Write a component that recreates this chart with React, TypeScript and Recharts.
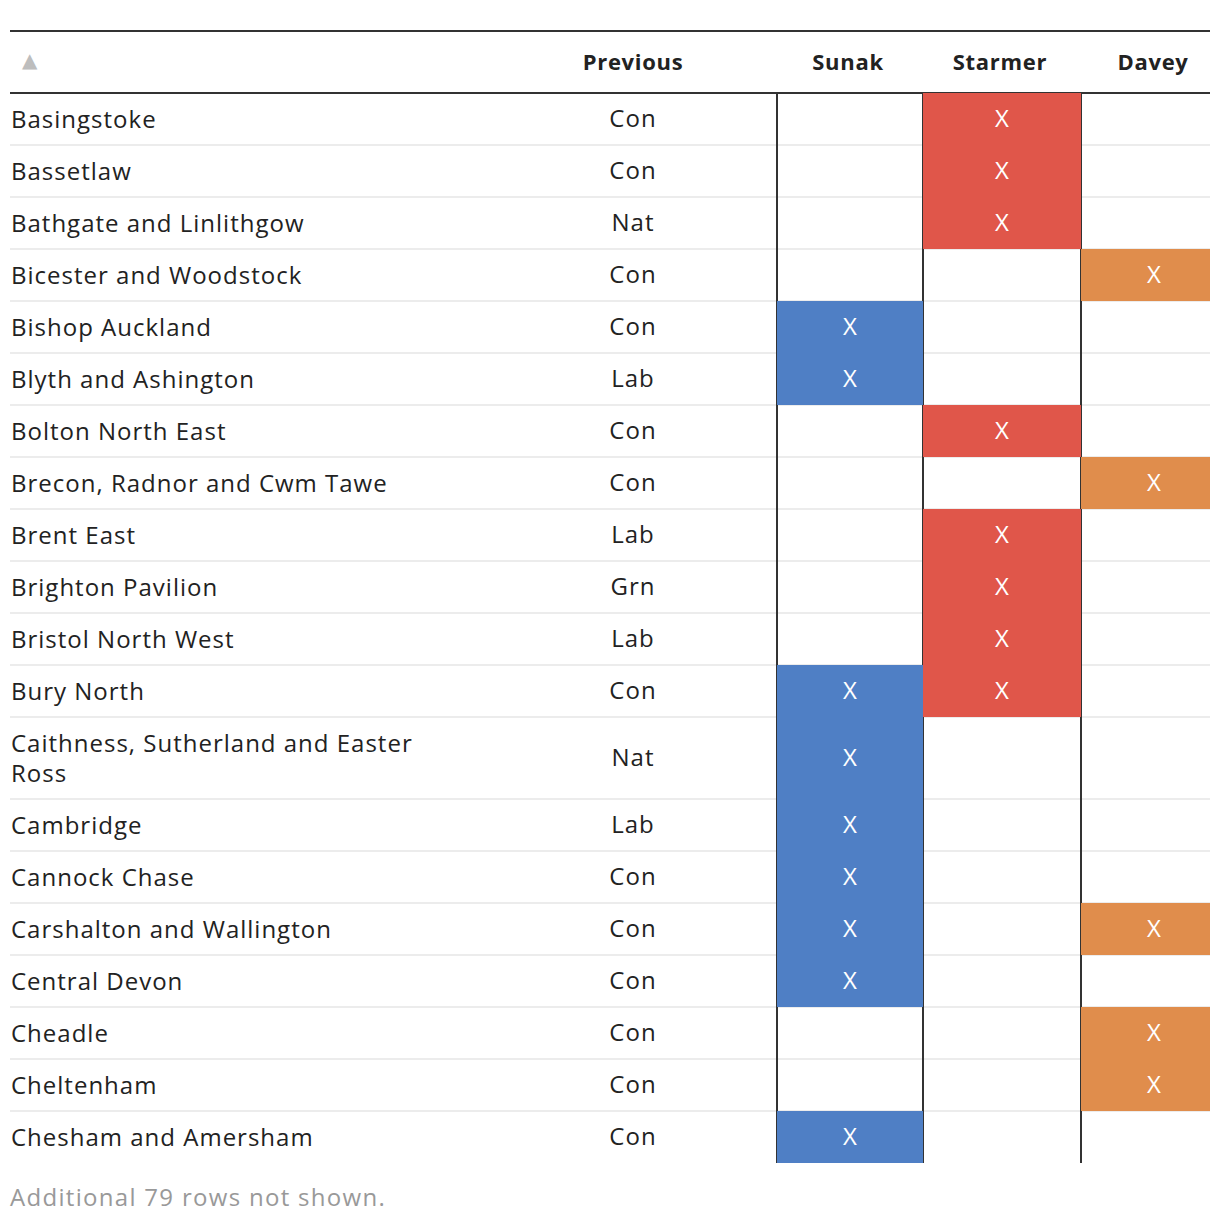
import React from 'react';
import { ScatterChart, Scatter, XAxis, YAxis, ReferenceLine } from 'recharts';

// --- data ---
const constituencies = [
  'Basingstoke',
  'Bassetlaw',
  'Bathgate and Linlithgow',
  'Bicester and Woodstock',
  'Bishop Auckland',
  'Blyth and Ashington',
  'Bolton North East',
  'Brecon, Radnor and Cwm Tawe',
  'Brent East',
  'Brighton Pavilion',
  'Bristol North West',
  'Bury North',
  'Caithness, Sutherland and Easter Ross',
  'Cambridge',
  'Cannock Chase',
  'Carshalton and Wallington',
  'Central Devon',
  'Cheadle',
  'Cheltenham',
  'Chesham and Amersham',
];
const previous = ['Con', 'Con', 'Nat', 'Con', 'Con', 'Lab', 'Con', 'Con', 'Lab', 'Grn', 'Lab', 'Con', 'Nat', 'Lab', 'Con', 'Con', 'Con', 'Con', 'Con', 'Con'];
const sunak = [0, 0, 0, 0, 1, 1, 0, 0, 0, 0, 0, 1, 1, 1, 1, 1, 1, 0, 0, 1];
const starmer = [1, 1, 1, 0, 0, 0, 1, 0, 1, 1, 1, 1, 0, 0, 0, 0, 0, 0, 0, 0];
const davey = [0, 0, 0, 1, 0, 0, 0, 1, 0, 0, 0, 0, 0, 0, 0, 1, 0, 1, 1, 0];
const headers = ['Previous', 'Sunak', 'Starmer', 'Davey'];
const hiddenRows = 79;

// --- layout ---
const W = 1200;
const HEADER_H = 61;
const LINE_H = 30;
const ROW_PAD = 22;
const MAX_CHARS = 34;
const FONT = '"Open Sans", Lato, sans-serif';
const TEXT = '#222';
const PREV_X = 623;
const TEXT_DY = -1.5;

function wrap(name: string) {
  const lines: string[] = [];
  let cur = '';
  name.split(' ').forEach((w) => {
    const next = cur ? cur + ' ' + w : w;
    if (next.length > MAX_CHARS && cur) {
      lines.push(cur);
      cur = w;
    } else cur = next;
  });
  if (cur) lines.push(cur);
  return lines;
}

const rowLines = constituencies.map(wrap);
const rowH = rowLines.map((l) => l.length * LINE_H + ROW_PAD);
const rowTop: number[] = [];
rowH.reduce((acc, h, i) => {
  rowTop[i] = acc;
  return acc + h;
}, 0);
const TOTAL_H = rowH.reduce((a, b) => a + b, 0);
const rowMid = rowTop.map((t, i) => t + rowH[i] / 2);

const columns = [
  { left: 767, right: 913, center: 840, color: '#4f7fc5', marks: sunak },
  { left: 913, right: 1071, center: 992, color: '#e0564a', marks: starmer },
  { left: 1071, right: 1217, center: 1144, color: '#e08d4c', marks: davey },
];
const headerTicks = [
  { x: 12, label: '▲' },
  { x: PREV_X, label: headers[0] },
  { x: 838, label: headers[1] },
  { x: 990, label: headers[2] },
  { x: 1143, label: headers[3] },
];

const nameData = constituencies.map((n, i) => ({ x: 1, y: rowMid[i], lines: rowLines[i] }));
const prevData = previous.map((p, i) => ({ x: PREV_X, y: rowMid[i], label: p }));
const cellData = columns.map((c) =>
  c.marks
    .map((m, i) => (m ? { x: c.center, y: rowMid[i], h: rowH[i], left: c.left, right: c.right, center: c.center } : null))
    .filter(Boolean)
);

const HeaderTick = (props: any) => {
  const t = headerTicks.find((h) => h.x === props.payload.value);
  const arrow = t?.label === '▲';
  return (
    <text
      x={props.x}
      y={arrow ? 28 : 29}
      textAnchor={arrow ? 'start' : 'middle'}
      dominantBaseline="central"
      fontFamily={arrow ? '"DejaVu Sans"' : FONT}
      fontSize={arrow ? 20 : 22}
      fontWeight={arrow ? 400 : 700}
      letterSpacing={arrow ? 0 : 0.7}
      fill={arrow ? '#bdbdbd' : TEXT}
    >
      {t?.label}
    </text>
  );
};

const NameShape = (props: any) => {
  const lines: string[] = props.payload.lines;
  const y0 = props.cy + TEXT_DY - ((lines.length - 1) * LINE_H) / 2;
  return (
    <text x={props.cx} fontFamily={FONT} fontSize={24} letterSpacing={1} fill={TEXT} textAnchor="start" dominantBaseline="central">
      {lines.map((l, i) => (
        <tspan key={i} x={props.cx} y={y0 + i * LINE_H} dominantBaseline="central">
          {l}
        </tspan>
      ))}
    </text>
  );
};

const PrevShape = (props: any) => (
  <text
    x={props.cx}
    y={props.cy + TEXT_DY}
    fontFamily={FONT}
    fontSize={24}
    letterSpacing={1}
    fill={TEXT}
    textAnchor="middle"
    dominantBaseline="central"
  >
    {props.payload.label}
  </text>
);

const makeCell = (color: string) => (props: any) => {
  const p = props.payload;
  const left = props.cx - (p.center - p.left);
  const right = Math.min(props.cx + (p.right - p.center), W);
  return (
    <g>
      <rect x={left} y={props.cy - p.h / 2} width={right - left} height={p.h} fill={color} />
      <text
        x={props.cx}
        y={props.cy + TEXT_DY}
        fontFamily={FONT}
        fontSize={24}
        fill="#fff"
        textAnchor="middle"
        dominantBaseline="central"
      >
        X
      </text>
    </g>
  );
};

export default function App() {
  return (
    <div style={{ marginLeft: 2, width: W }}>
      <div style={{ marginTop: 22, borderTop: '2px solid #333' }}>
        <ScatterChart width={W} height={HEADER_H + TOTAL_H} margin={{ top: 0, right: 0, bottom: 0, left: 0 }}>
          <XAxis
            type="number"
            dataKey="x"
            orientation="top"
            domain={[0, W]}
            height={HEADER_H}
            ticks={headerTicks.map((t) => t.x)}
            interval={0}
            tick={HeaderTick}
            tickLine={false}
            axisLine={{ stroke: '#333', strokeWidth: 2 }}
            allowDataOverflow
          />
          <YAxis type="number" dataKey="y" domain={[0, TOTAL_H]} reversed hide width={0} allowDataOverflow />
          {cellData.map((d, i) => (
            <Scatter key={i} data={d as any[]} shape={makeCell(columns[i].color)} isAnimationActive={false} />
          ))}
          {rowTop.slice(1).map((t, i) => (
            <ReferenceLine key={'r' + i} y={t} stroke="rgba(0,0,0,0.075)" strokeWidth={2} />
          ))}
          {columns.map((c, i) => (
            <ReferenceLine key={'c' + i} x={c.left} stroke="#333" strokeWidth={2} />
          ))}
          <Scatter data={nameData} shape={NameShape} isAnimationActive={false} />
          <Scatter data={prevData} shape={PrevShape} isAnimationActive={false} />
        </ScatterChart>
      </div>
      <div style={{ marginTop: 19, fontFamily: FONT, fontSize: 24, letterSpacing: 1.3, lineHeight: '30px', color: '#999' }}>
        Additional {hiddenRows} rows not shown.
      </div>
    </div>
  );
}
